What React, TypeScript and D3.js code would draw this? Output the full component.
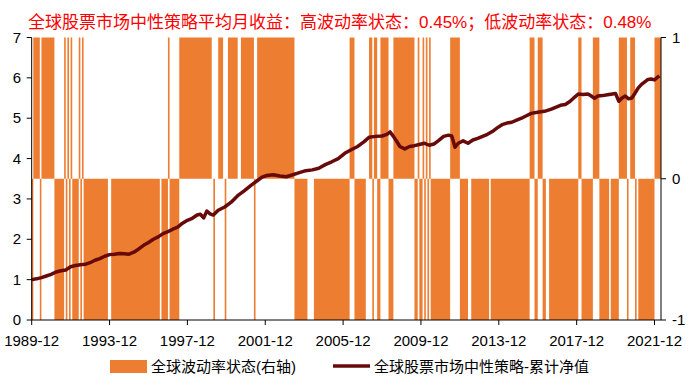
import React, { useEffect, useRef } from "react";
import * as d3 from "d3";

// chart values
const startMonth = "1989-12";
const monthCount = 388;
const tickLabels = ["1989-12", "1993-12", "1997-12", "2001-12", "2005-12", "2009-12", "2013-12", "2017-12", "2021-12"];
const leftTicks = [0, 1, 2, 3, 4, 5, 6, 7];
const rightTicks = [-1, 0, 1];

// volatility state runs: [state, number of months]; 1 = high, -1 = low, 0 = none
const volRuns: [number, number][] = [
  [-1, 1], [1, 4], [-1, 1], [1, 8], [-1, 6], [1, 1], [-1, 1], [1, 1], [-1, 1], [1, 1],
  [-1, 4], [1, 1], [-1, 1], [1, 1], [-1, 15], [0, 2], [-1, 30], [0, 1], [-1, 4], [1, 1],
  [-1, 6], [1, 20], [0, 1], [-1, 1], [0, 2], [1, 3], [0, 1], [-1, 1], [0, 1], [1, 6],
  [0, 2], [1, 8], [-1, 1], [0, 1], [1, 23], [-1, 8], [0, 4], [-1, 22], [1, 3], [-1, 7],
  [0, 2], [1, 2], [-1, 1], [1, 2], [-1, 2], [1, 5], [-1, 3], [1, 13], [-1, 2], [1, 1],
  [-1, 2], [1, 1], [-1, 1], [1, 1], [-1, 1], [1, 1], [-1, 12], [1, 6], [-1, 5], [0, 2],
  [-1, 11], [0, 1], [-1, 24], [1, 3], [-1, 2], [1, 3], [-1, 2], [0, 2], [-1, 18], [1, 2],
  [-1, 7], [1, 4], [-1, 6], [0, 1], [-1, 5], [1, 5], [-1, 1], [0, 1], [1, 3], [-1, 1],
  [0, 1], [-1, 10], [1, 4],
];

// cumulative net value: month offset from 1989-12 and value
const navMonths = [
  0, 3, 6, 9, 12, 15, 18, 21, 24, 27, 30, 33, 36, 39, 42, 45, 48, 51, 54, 57,
  60, 63, 66, 69, 72, 75, 78, 81, 84, 87, 90, 93, 96, 99, 102, 104, 106, 108, 110, 112,
  115, 119, 123, 127, 131, 135, 139, 142, 145, 149, 153, 157, 161, 165, 169, 173, 177, 181, 185, 189,
  193, 197, 201, 205, 208, 212, 216, 219, 221, 223, 225, 227, 230, 233, 236, 239, 242, 245, 248, 251,
  254, 257, 259, 261, 263, 266, 269, 272, 275, 278, 281, 284, 287, 290, 293, 296, 299, 302, 305, 308,
  311, 314, 317, 320, 323, 326, 329, 332, 335, 337, 340, 343, 345, 347, 349, 352, 355, 358, 360, 362,
  364, 366, 368, 370, 372, 374, 376, 378, 380, 382, 384, 386, 387,
];
const navValues = [
  1.0, 1.02, 1.05, 1.09, 1.13, 1.19, 1.22, 1.24, 1.32, 1.35, 1.37, 1.38, 1.42, 1.48, 1.52, 1.58, 1.62, 1.63, 1.65, 1.64,
  1.63, 1.68, 1.76, 1.85, 1.92, 2.0, 2.06, 2.14, 2.19, 2.25, 2.3, 2.4, 2.47, 2.52, 2.6, 2.62, 2.53, 2.7, 2.63, 2.6,
  2.72, 2.8, 2.92, 3.08, 3.2, 3.33, 3.45, 3.54, 3.58, 3.6, 3.57, 3.55, 3.6, 3.65, 3.7, 3.72, 3.76, 3.85, 3.92, 4.0,
  4.13, 4.22, 4.3, 4.42, 4.53, 4.55, 4.56, 4.6, 4.66, 4.55, 4.43, 4.3, 4.24, 4.3, 4.32, 4.35, 4.38, 4.33, 4.36, 4.45,
  4.55, 4.58, 4.56, 4.28, 4.38, 4.44, 4.38, 4.46, 4.5, 4.55, 4.6, 4.67, 4.76, 4.84, 4.88, 4.9, 4.95, 5.0, 5.06, 5.12,
  5.14, 5.16, 5.18, 5.22, 5.27, 5.32, 5.34, 5.42, 5.53, 5.6, 5.59, 5.6, 5.55, 5.49, 5.55, 5.56, 5.58, 5.6, 5.61, 5.42,
  5.5, 5.55, 5.48, 5.5, 5.62, 5.75, 5.84, 5.9, 5.96, 5.97, 5.95, 6.02, 6.05,
];

const titleText = "全球股票市场中性策略平均月收益：高波动率状态：0.45%；低波动率状态：0.48%";
const legendBars = "全球波动率状态(右轴)";
const legendLine = "全球股票市场中性策略-累计净值";

const W = 700;
const H = 386;
const FONT = "'Liberation Sans', Arial, 'Noto Sans CJK SC', sans-serif";
const LINE_COLOR = "#680a0a";

const monthOffset = (label: string) => {
  const [y, m] = label.split("-").map(Number);
  const [y0, m0] = startMonth.split("-").map(Number);
  return (y - y0) * 12 + (m - m0);
};

const App = () => {
  const ref = useRef<SVGSVGElement>(null);

  useEffect(() => {
    const svg = d3.select(ref.current);
    svg.selectAll("*").remove();

    const left = 31.7;
    const right = 661;
    const top = 37.5;
    const bottom = 320;

    const x = d3.scaleLinear().domain([0, monthCount]).range([left, right]);
    const yL = d3.scaleLinear().domain([0, 7]).range([bottom, top]);
    const yR = d3.scaleLinear().domain([-1, 1]).range([bottom, top]);

    // expand runs into contiguous blocks
    let pos = 0;
    const blocks = volRuns.map(([state, n]) => {
      const b = { state, start: pos, end: pos + n };
      pos += n;
      return b;
    }).filter((b) => b.state !== 0);

    svg.append("g")
      .selectAll("rect")
      .data(blocks)
      .enter()
      .append("rect")
      .attr("x", (d) => x(d.start))
      .attr("width", (d) => x(d.end) - x(d.start))
      .attr("y", (d) => yR(Math.max(0, d.state)))
      .attr("height", (d) => Math.abs(yR(d.state) - yR(0)))
      .attr("fill", "#ED7D31");

    // net value line
    const line = d3.line<number>()
      .x((d, i) => x(navMonths[i]))
      .y((d) => yL(d));

    svg.append("path")
      .datum(navValues)
      .attr("fill", "none")
      .attr("stroke", LINE_COLOR)
      .attr("stroke-width", 3.5)
      .attr("stroke-linejoin", "round")
      .attr("d", line);

    const axisColor = "#000";

    // left axis
    svg.append("line").attr("x1", left).attr("x2", left).attr("y1", top).attr("y2", bottom).attr("stroke", axisColor);
    leftTicks.forEach((t) => {
      svg.append("line").attr("x1", left - 5).attr("x2", left).attr("y1", yL(t)).attr("y2", yL(t)).attr("stroke", axisColor);
      svg.append("text")
        .attr("x", 21)
        .attr("y", yL(t) + 5)
        .attr("text-anchor", "end")
        .style("font-family", FONT)
        .style("font-size", "15px")
        .text(t);
    });

    // right axis
    svg.append("line").attr("x1", right).attr("x2", right).attr("y1", top).attr("y2", bottom).attr("stroke", axisColor);
    rightTicks.forEach((t) => {
      svg.append("line").attr("x1", right).attr("x2", right + 5).attr("y1", yR(t)).attr("y2", yR(t)).attr("stroke", axisColor);
      svg.append("text")
        .attr("x", 672)
        .attr("y", yR(t) + 5)
        .style("font-family", FONT)
        .style("font-size", "15px")
        .text(t);
    });

    // x axis
    svg.append("line").attr("x1", left).attr("x2", right).attr("y1", bottom).attr("y2", bottom).attr("stroke", axisColor);
    tickLabels.forEach((label) => {
      const tx = x(monthOffset(label));
      svg.append("line").attr("x1", tx).attr("x2", tx).attr("y1", bottom).attr("y2", bottom + 5).attr("stroke", axisColor);
      svg.append("text")
        .attr("x", tx)
        .attr("y", 346)
        .attr("text-anchor", "middle")
        .style("font-family", FONT)
        .style("font-size", "15px")
        .text(label);
    });

    // title
    svg.append("text")
      .attr("x", 28)
      .attr("y", 28)
      .attr("fill", "#FF0000")
      .style("font-family", FONT)
      .style("font-size", "17px")
      .text(titleText);

    // legend
    svg.append("rect").attr("x", 110).attr("y", 360).attr("width", 37).attr("height", 13).attr("fill", "#ED7D31");
    svg.append("text")
      .attr("x", 151)
      .attr("y", 372)
      .style("font-family", FONT)
      .style("font-size", "15px")
      .text(legendBars);
    svg.append("line").attr("x1", 333).attr("x2", 370).attr("y1", 366).attr("y2", 366)
      .attr("stroke", LINE_COLOR).attr("stroke-width", 3.5);
    svg.append("text")
      .attr("x", 374)
      .attr("y", 372)
      .style("font-family", FONT)
      .style("font-size", "15px")
      .text(legendLine);
  }, []);

  return (
    <svg
      ref={ref}
      width={W}
      height={H}
      style={{ position: "absolute", left: 0, top: 0, background: "#fff" }}
    />
  );
};

export default App;
